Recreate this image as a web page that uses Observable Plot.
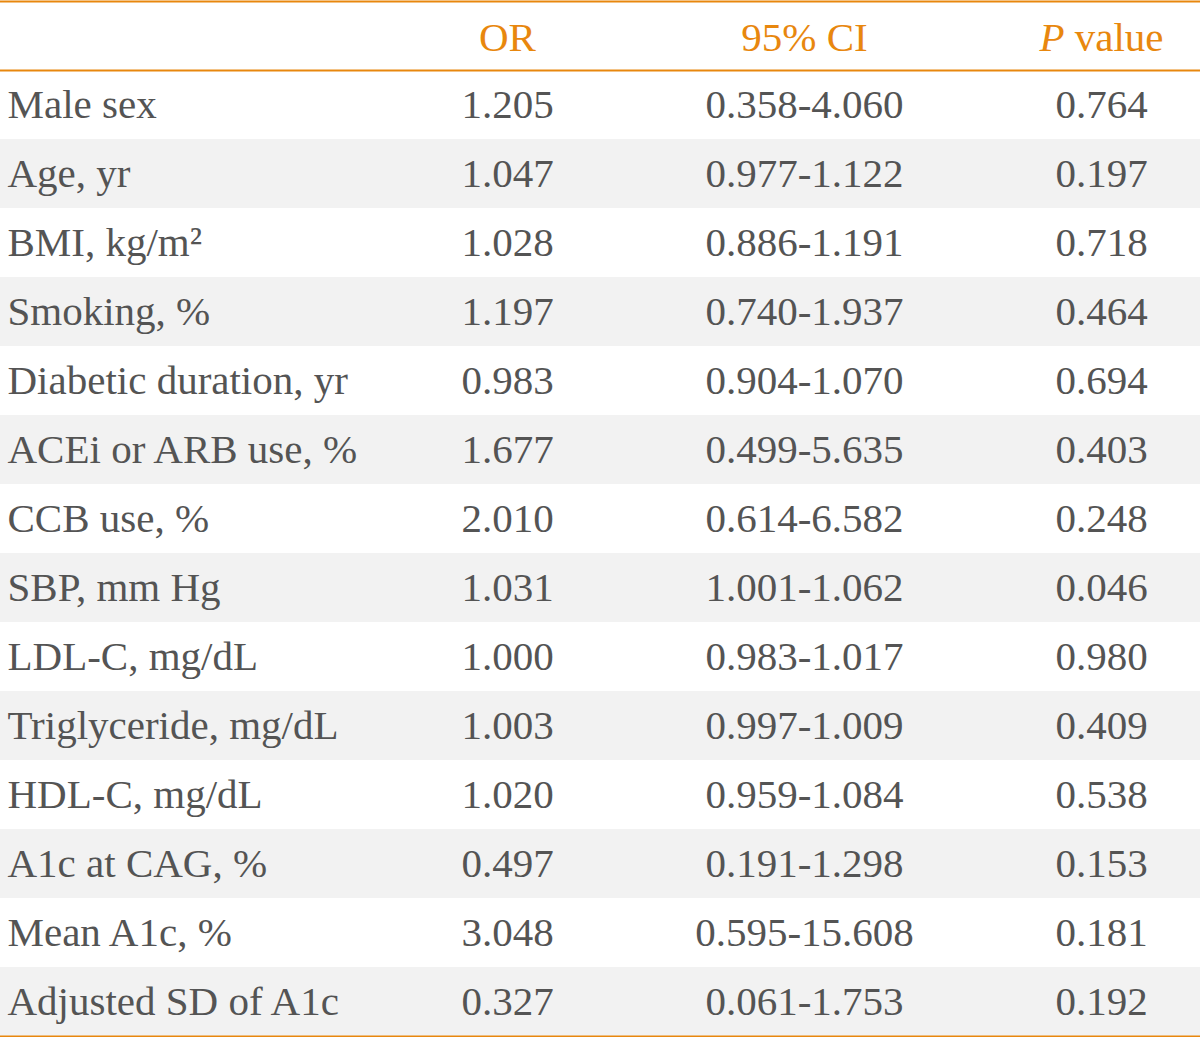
<!DOCTYPE html>
<html>
<head>
<meta charset="utf-8">
<script src="https://cdn.jsdelivr.net/npm/d3@7"></script>
<script src="https://cdn.jsdelivr.net/npm/@observablehq/plot@0.6"></script>
<style>
  html, body { margin: 0; padding: 0; background: #fff; }
  svg { display: block; }
</style>
</head>
<body>
<div id="chart"></div>
<script>
const headers = ["OR", "95% CI", "P value"];
const variables = [
  "Male sex", "Age, yr", "BMI, kg/m\u00B2", "Smoking, %", "Diabetic duration, yr",
  "ACEi or ARB use, %", "CCB use, %", "SBP, mm Hg", "LDL-C, mg/dL",
  "Triglyceride, mg/dL", "HDL-C, mg/dL", "A1c at CAG, %", "Mean A1c, %", "Adjusted SD of A1c"
];
const orValues = ["1.205", "1.047", "1.028", "1.197", "0.983", "1.677", "2.010", "1.031", "1.000", "1.003", "1.020", "0.497", "3.048", "0.327"];
const ciValues = ["0.358-4.060", "0.977-1.122", "0.886-1.191", "0.740-1.937", "0.904-1.070", "0.499-5.635", "0.614-6.582", "1.001-1.062", "0.983-1.017", "0.997-1.009", "0.959-1.084", "0.191-1.298", "0.595-15.608", "0.061-1.753"];
const pValues = ["0.764", "0.197", "0.718", "0.464", "0.694", "0.403", "0.248", "0.046", "0.980", "0.409", "0.538", "0.153", "0.181", "0.192"];

const orange = "#E8870E";
const textColor = "#545454";

const rows = variables.map((v, i) => ({i, row: i + 1, label: v, OR: orValues[i], CI: ciValues[i], P: pValues[i]}));
const cells = rows.flatMap(r => [
  {row: r.row, col: "OR", text: r.OR},
  {row: r.row, col: "95% CI", text: r.CI},
  {row: r.row, col: "P value", text: r.P}
]);
const headerCells = headers.map(h => ({row: 0, col: h, text: h}));
const shaded = rows.filter(r => r.i % 2 === 1);

const chart = Plot.plot({
  width: 1200,
  height: 1037,
  margin: 0,
  style: {fontFamily: "Liberation Serif, serif", background: "#fff"},
  x: {type: "point", domain: headers, range: [507, 1101], padding: 0, axis: null},
  y: {type: "linear", domain: [0, 15], range: [1, 1036], axis: null},
  marks: [
    Plot.rect(shaded, {y1: "row", y2: d => d.row + 1, fill: "#f2f2f2", inset: 0}),
    Plot.ruleY([0, 1, 15], {stroke: orange, strokeWidth: 2}),
    Plot.text(headerCells, {x: "col", y: d => d.row + 0.5, text: "text", fill: orange, fontSize: 41, dy: 2}),
    Plot.text(rows, {y: d => d.row + 0.5, text: "label", frameAnchor: "left", textAnchor: "start", dx: 7, fill: textColor, fontSize: 41}),
    Plot.text(cells, {x: "col", y: d => d.row + 0.5, text: "text", fill: textColor, fontSize: 41})
  ]
});

// italic P in header
d3.select(chart).selectAll("text").each(function() {
  const t = d3.select(this);
  if (t.text() === "P value") {
    t.text(null);
    t.append("tspan").attr("font-style", "italic").text("P");
    t.append("tspan").text(" value");
  }
});

document.getElementById("chart").appendChild(chart);
</script>
</body>
</html>
